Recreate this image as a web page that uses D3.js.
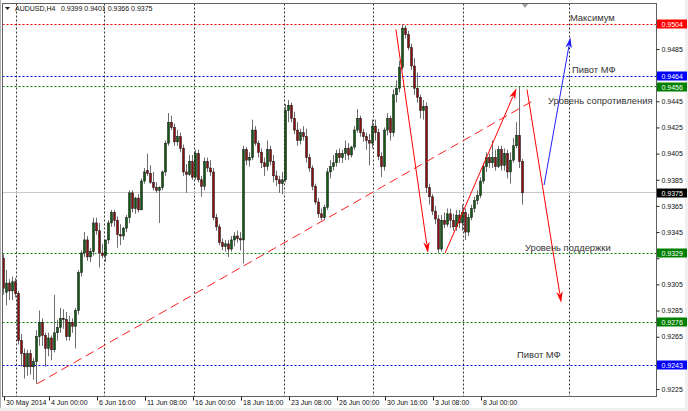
<!DOCTYPE html>
<html><head><meta charset="utf-8">
<script src="https://cdn.jsdelivr.net/npm/d3@7"></script>
<style>body{margin:0;background:#fff}svg{display:block}text{font-family:"Liberation Sans",Arial,sans-serif}</style>
</head><body><svg id="c" width="688" height="411"></svg>
<script>
const symbol = "AUDUSD,H4";
const lastQuote = ["0.9399","0.9401","0.9366","0.9375"];
const open = [
.9325,.9299,.9306,.9300,.9307,.9298,.9262,.9252,.9242,.9252,
.9242,.9246,.9265,.9276,.9266,.9256,.9264,.9255,.9268,.9272,
.9279,.9278,.9265,.9276,.9273,.9285,.9314,.9329,.9339,.9326,
.9330,.9352,.9346,.9329,.9327,.9339,.9352,.9360,.9354,.9343,
.9342,.9348,.9356,.9375,.9363,.9371,.9362,.9384,.9392,.9390,
.9383,.9379,.9377,.9379,.9391,.9413,.9429,.9425,.9414,.9418,
.9409,.9391,.9389,.9399,.9387,.9405,.9385,.9380,.9399,.9394,
.9391,.9356,.9349,.9337,.9334,.9336,.9332,.9339,.9342,.9340,
.9339,.9408,.9400,.9402,.9423,.9413,.9406,.9398,.9395,.9408,
.9399,.9388,.9385,.9382,.9385,.9438,.9442,.9432,.9423,.9415,
.9421,.9418,.9402,.9394,.9380,.9368,.9359,.9356,.9364,.9391,
.9395,.9398,.9405,.9402,.9405,.9409,.9404,.9410,.9423,.9432,
.9421,.9418,.9415,.9413,.9426,.9421,.9403,.9395,.9423,.9432,
.9421,.9450,.9455,.9471,.9501,.9496,.9486,.9472,.9455,.9448,
.9438,.9441,.9379,.9372,.9361,.9355,.9332,.9354,.9351,.9359,
.9354,.9349,.9358,.9352,.9360,.9345,.9356,.9363,.9369,.9373,
.9384,.9395,.9402,.9398,.9402,.9395,.9408,.9396,.9405,.9391,
.9400,.9411,.9419,.9399];
const high = [
.9328,.9316,.9309,.9311,.9310,.9300,.9267,.9256,.9255,.9255,
.9249,.9270,.9285,.9279,.9268,.9268,.9266,.9297,.9278,.9287,
.9286,.9284,.9281,.9279,.9287,.9316,.9331,.9345,.9342,.9333,
.9356,.9356,.9352,.9336,.9336,.9354,.9362,.9362,.9357,.9351,
.9349,.9358,.9377,.9377,.9372,.9374,.9386,.9394,.9405,.9396,
.9391,.9383,.9380,.9392,.9415,.9436,.9434,.9428,.9423,.9421,
.9412,.9397,.9404,.9404,.9408,.9408,.9388,.9402,.9402,.9400,
.9394,.9359,.9351,.9340,.9339,.9339,.9342,.9345,.9346,.9345,
.9411,.9410,.9406,.9431,.9426,.9415,.9409,.9402,.9415,.9411,
.9404,.9392,.9388,.9391,.9443,.9446,.9444,.9437,.9429,.9424,
.9426,.9424,.9405,.9396,.9382,.9371,.9363,.9366,.9394,.9400,
.9404,.9408,.9409,.9408,.9415,.9413,.9411,.9426,.9439,.9434,
.9424,.9421,.9420,.9431,.9431,.9424,.9406,.9425,.9436,.9434,
.9454,.9461,.9476,.9504,.9503,.9499,.9489,.9478,.9467,.9450,
.9446,.9444,.9382,.9374,.9365,.9358,.9358,.9360,.9363,.9363,
.9359,.9362,.9362,.9366,.9363,.9359,.9366,.9372,.9377,.9387,
.9398,.9406,.9405,.9415,.9408,.9411,.9411,.9409,.9408,.9406,
.9417,.9429,.9456,.9401];
const low = [
.9297,.9289,.9293,.9293,.9295,.9259,.9242,.9233,.9235,.9236,
.9232,.9229,.9258,.9258,.9242,.9250,.9247,.9253,.9262,.9268,
.9271,.9262,.9262,.9268,.9256,.9282,.9311,.9326,.9323,.9322,
.9327,.9343,.9318,.9325,.9322,.9336,.9349,.9349,.9333,.9335,
.9339,.9345,.9352,.9360,.9359,.9360,.9362,.9382,.9388,.9382,
.9377,.9375,.9352,.9377,.9388,.9411,.9423,.9411,.9411,.9406,
.9388,.9375,.9388,.9385,.9385,.9383,.9372,.9377,.9391,.9388,
.9354,.9346,.9335,.9331,.9330,.9326,.9330,.9334,.9337,.9331,
.9321,.9396,.9395,.9400,.9411,.9402,.9394,.9388,.9392,.9396,
.9383,.9380,.9375,.9374,.9383,.9429,.9429,.9420,.9411,.9412,
.9415,.9398,.9391,.9377,.9366,.9356,.9354,.9354,.9362,.9386,
.9392,.9395,.9398,.9398,.9400,.9400,.9402,.9408,.9421,.9418,
.9414,.9408,.9396,.9409,.9415,.9400,.9387,.9392,.9419,.9415,
.9418,.9444,.9452,.9469,.9493,.9484,.9469,.9450,.9444,.9432,
.9431,.9375,.9366,.9358,.9351,.9329,.9330,.9348,.9349,.9348,
.9346,.9346,.9348,.9346,.9339,.9342,.9354,.9360,.9366,.9371,
.9382,.9391,.9394,.9394,.9392,.9394,.9392,.9392,.9386,.9382,
.9398,.9409,.9394,.9366];
const close = [
.9302,.9306,.9300,.9307,.9298,.9262,.9252,.9242,.9252,.9242,
.9246,.9265,.9276,.9266,.9256,.9264,.9255,.9268,.9272,.9279,
.9278,.9265,.9276,.9273,.9285,.9314,.9329,.9339,.9326,.9330,
.9352,.9346,.9329,.9327,.9339,.9352,.9360,.9354,.9343,.9342,
.9348,.9356,.9375,.9363,.9371,.9362,.9384,.9391,.9390,.9383,
.9379,.9377,.9379,.9391,.9413,.9429,.9425,.9414,.9418,.9409,
.9391,.9389,.9399,.9387,.9405,.9385,.9380,.9399,.9394,.9391,
.9356,.9349,.9337,.9334,.9336,.9332,.9339,.9342,.9340,.9339,
.9408,.9400,.9402,.9423,.9413,.9406,.9398,.9395,.9408,.9399,
.9388,.9385,.9382,.9385,.9438,.9442,.9432,.9423,.9415,.9421,
.9418,.9402,.9394,.9380,.9368,.9359,.9356,.9364,.9391,.9395,
.9398,.9405,.9402,.9405,.9409,.9404,.9410,.9423,.9432,.9421,
.9418,.9415,.9413,.9426,.9421,.9403,.9395,.9423,.9432,.9421,
.9450,.9455,.9471,.9501,.9496,.9486,.9472,.9455,.9448,.9438,
.9441,.9379,.9372,.9361,.9355,.9332,.9354,.9351,.9359,.9354,
.9349,.9358,.9352,.9360,.9345,.9356,.9363,.9369,.9373,.9384,
.9395,.9402,.9398,.9402,.9395,.9408,.9396,.9405,.9391,.9400,
.9411,.9419,.9399,.9375];

const yTicks = [0.9225,0.9245,0.9265,0.9285,0.9305,0.9325,0.9345,0.9365,0.9385,0.9405,0.9425,0.9445,0.9465,0.9485,0.9505];
const xTickIdx = [0,15,31,47,63,79,95,111,127,143,159];
const xTickLabels = ["30 May 2014","4 Jun 00:00","6 Jun 16:00","11 Jun 08:00","16 Jun 00:00","18 Jun 16:00","23 Jun 08:00","26 Jun 00:00","30 Jun 16:00","3 Jul 08:00","8 Jul 00:00"];
const gridIdx = [4.17,33.83,63.5,93.5,123.17,153.17,188.5];
const levelValues = [0.9504,0.9464,0.9456,0.9329,0.9276,0.9243];
const levelColors = ["#ff0000","#0000ff","#008000","#008000","#008000","#0000ff"];
const bidValue = 0.9375;
const trendLine = [[11.2,0.9229],[176.2,0.9445]];
const redArrows = [[130.8,0.9500,141.5,0.9329],[147.2,0.9329,171.0,0.9455],[174.5,0.9454,185.9,0.9291]];
const blueArrows = [[180.2,0.9381,189.0,0.9494]];
const noteTexts = ["Максимум","Пивот МФ","Уровень сопротивления","Уровень поддержки","Пивот МФ"];
const noteIdx = [188.8,189.5,181.5,173.8,171.2];
const notePrice = [0.95064,0.94666,0.94429,0.93305,0.92487];

const W=688,H=411, L=2.5, R=656.5, T=3.5, B=396.5;
const svg = d3.select("#c");
svg.append("rect").attr("width",W).attr("height",H).attr("fill","#fff");
svg.append("rect").attr("x",0).attr("y",408).attr("width",W).attr("height",3).attr("fill","#f0f0f0");
svg.append("rect").attr("x",685).attr("y",0).attr("width",3).attr("height",H).attr("fill","#f0f0f0");

const x = d3.scaleLinear().domain([0,173]).range([3.5,522.5]);
const y = d3.scaleLinear().domain([0.9225,0.9485]).range([389,49]);
const px = v => Math.round(x(v)-0.5)+0.5;
const py = v => Math.round(y(v)-0.5)+0.5;

svg.append("defs").append("clipPath").attr("id","clip").append("rect")
  .attr("x",L+0.5).attr("y",T+0.5).attr("width",R-L-1).attr("height",B-T-1);
const plot = svg.append("g").attr("clip-path","url(#clip)");

// vertical grid
plot.selectAll(".grid").data(gridIdx).join("line")
  .attr("x1",d=>px(d)).attr("x2",d=>px(d)).attr("y1",T).attr("y2",B)
  .attr("stroke","#333").attr("stroke-dasharray","2,2").attr("stroke-width",1);

// bid line
plot.append("line").attr("x1",L).attr("x2",R).attr("y1",py(bidValue)).attr("y2",py(bidValue))
  .attr("stroke","#c8c8c8").attr("stroke-width",1);

// level lines
plot.selectAll(".lvl").data(levelValues).join("line")
  .attr("x1",L).attr("x2",R).attr("y1",d=>py(d)).attr("y2",d=>py(d))
  .attr("stroke",(d,i)=>levelColors[i]).attr("stroke-dasharray","2,2").attr("stroke-width",1);

// candles
const idx = d3.range(open.length);
const cg = plot.append("g");
cg.selectAll(".wick").data(idx).join("line")
  .attr("x1",i=>px(i)).attr("x2",i=>px(i))
  .attr("y1",i=>y(high[i])).attr("y2",i=>y(low[i]))
  .attr("stroke","#6e6e6e").attr("stroke-width",1);
cg.selectAll(".body").data(idx).join("rect")
  .attr("x",i=>px(i)-1).attr("width",2)
  .attr("y",i=>y(Math.max(open[i],close[i])))
  .attr("height",i=>Math.max(1,Math.abs(y(open[i])-y(close[i]))))
  .attr("fill",i=>close[i]>=open[i]?"#0e5a12":"#8a1010")
  .attr("stroke","#111").attr("stroke-width",0.5);

// trend line
plot.append("line")
  .attr("x1",x(trendLine[0][0])).attr("y1",y(trendLine[0][1]))
  .attr("x2",x(trendLine[1][0])).attr("y2",y(trendLine[1][1]))
  .attr("stroke","#ff2020").attr("stroke-width",1).attr("stroke-dasharray","9,5");

function arrow(a,color){
  const x1=x(a[0]),y1=y(a[1]),x2=x(a[2]),y2=y(a[3]);
  const dx=x2-x1,dy=y2-y1,len=Math.hypot(dx,dy),ux=dx/len,uy=dy/len;
  const bl=11,hw=3.2;
  const bx=x2-ux*bl,by=y2-uy*bl;
  plot.append("line").attr("x1",x1).attr("y1",y1).attr("x2",bx+ux*2).attr("y2",by+uy*2)
    .attr("stroke",color).attr("stroke-width",1);
  plot.append("path").attr("d",`M${x2},${y2}L${bx-uy*hw},${by+ux*hw}L${bx+ux*3},${by+uy*3}L${bx+uy*hw},${by-ux*hw}Z`)
    .attr("fill",color);
}
redArrows.forEach(a=>arrow(a,"#ff0000"));
blueArrows.forEach(a=>arrow(a,"#2020ff"));

// notes
plot.selectAll(".note").data(noteTexts).join("text")
  .attr("x",(d,i)=>x(noteIdx[i])).attr("y",(d,i)=>y(notePrice[i]))
  .attr("font-size","9.4px").attr("fill","#333").text(d=>d);

// header
svg.append("path").attr("d","M5,7L10,7L7.5,10Z").attr("fill","#222");
svg.append("text").attr("x",15).attr("y",11).attr("font-size","7px").attr("fill","#111").text(symbol);
svg.append("text").attr("x",61).attr("y",11).attr("font-size","7px").attr("fill","#111").text(lastQuote.join(" "));
// shift marker
svg.append("path").attr("d","M522,4L528,4L525,8Z").attr("fill","#a0a0a0");

// frame
svg.append("rect").attr("x",0).attr("y",0).attr("width",1).attr("height",408).attr("fill","#b0b0b0");
svg.append("rect").attr("x",L).attr("y",T).attr("width",R-L).attr("height",B-T)
  .attr("fill","none").attr("stroke","#606060").attr("stroke-width",1);

// price boxes (values shown on the right)
const boxVals = levelValues.concat([bidValue]);
const boxCols = levelColors.concat(["#000000"]);

// right axis
const hidden = v => boxVals.some(b => Math.abs(b - v) < 0.0006);
const ya = svg.append("g").attr("transform",`translate(${R},0)`)
  .call(d3.axisRight(y).tickValues(yTicks).tickSize(3).tickPadding(2)
    .tickFormat(d => hidden(d) ? "" : d3.format(".4f")(d)));
ya.select(".domain").remove();
ya.selectAll("line").attr("stroke","#222");
ya.selectAll("text").attr("font-size","7px").attr("fill","#111").attr("font-family","'Liberation Sans',Arial,sans-serif");

const bx = svg.append("g");
bx.selectAll("rect").data(boxVals).join("rect")
  .attr("x",R+0.5).attr("y",d=>Math.round(y(d))-4.5).attr("width",30).attr("height",9)
  .attr("fill",(d,i)=>boxCols[i]);
bx.selectAll("text").data(boxVals).join("text")
  .attr("x",R+5).attr("y",d=>Math.round(y(d))+2.5)
  .attr("font-size","7px").attr("fill","#fff").text(d=>d.toFixed(4));

// bottom axis
const xa = svg.append("g").attr("transform",`translate(0,${B})`)
  .call(d3.axisBottom(x).tickValues(xTickIdx).tickSize(4).tickFormat((d,i)=>xTickLabels[i]));
xa.select(".domain").remove();
xa.selectAll("line").attr("stroke","#222").attr("transform","translate(0.5,0)");
xa.selectAll("text").attr("font-size","7px").attr("fill","#111").attr("text-anchor","start")
  .attr("x",2).attr("y",8).attr("dy",0).attr("font-family","'Liberation Sans',Arial,sans-serif");
</script></body></html>
